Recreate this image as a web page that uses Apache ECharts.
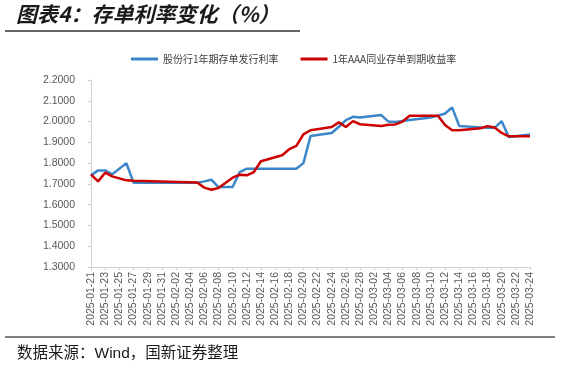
<!DOCTYPE html>
<html><head><meta charset="utf-8">
<script src="https://cdn.jsdelivr.net/npm/echarts@6/dist/echarts.min.js"></script>
<style>html,body{margin:0;padding:0;background:#fff}#c{width:578px;height:367px}</style>
</head><body><div id="c"></div>
<script>
// Calendar days 2025-01-21 .. 2025-03-24 (null = no trading day)
var startDate = '2025-01-21';
var dayCount = 63;
var seriesNames = ['股份行1年期存单发行利率', '1年AAA同业存单到期收益率'];
// [dayIndex, value]
var blueData = [
  [0,1.741],[1,1.765],[2,1.765],[3,1.746],[5,1.800],[6,1.706],[15,1.705],[16,1.712],[17,1.720],
  [18,1.685],[20,1.685],[21,1.757],[22,1.773],[23,1.773],[24,1.773],[27,1.773],[28,1.773],[29,1.773],
  [30,1.800],[31,1.930],[34,1.945],[35,1.975],[36,2.007],[37,2.023],[38,2.020],[41,2.031],[42,2.000],
  [43,1.998],[44,2.003],[45,2.008],[48,2.020],[49,2.028],[50,2.039],[51,2.068],[52,1.979],[55,1.972],
  [56,1.970],[57,1.970],[58,2.002],[59,1.926],[62,1.938]
];
var redData = [
  [0,1.745],[1,1.712],[2,1.754],[3,1.736],[5,1.717],[6,1.715],[15,1.707],[16,1.682],[17,1.672],
  [18,1.680],[20,1.730],[21,1.744],[22,1.741],[23,1.757],[24,1.809],[27,1.838],[28,1.867],[29,1.883],
  [30,1.938],[31,1.958],[34,1.974],[35,1.996],[36,1.974],[37,2.002],[38,1.987],[41,1.979],[42,1.985],
  [43,1.986],[44,2.000],[45,2.028],[48,2.028],[49,2.028],[50,1.983],[51,1.958],[52,1.958],[55,1.968],
  [56,1.978],[57,1.971],[58,1.945],[59,1.929],[62,1.929]
];
var yMin = 1.3, yMax = 2.2, yStep = 0.1;

function pad(n){return n<10?'0'+n:''+n;}
var categories = [];
var d0 = new Date(startDate + 'T00:00:00Z');
for (var i = 0; i < dayCount; i++) {
  var d = new Date(d0.getTime() + i*86400000);
  categories.push(d.getUTCFullYear() + '-' + pad(d.getUTCMonth()+1) + '-' + pad(d.getUTCDate()));
}
function expand(pairs){
  var arr = new Array(dayCount).fill(null);
  pairs.forEach(function(p){arr[p[0]] = p[1];});
  return arr;
}

var chart = echarts.init(document.getElementById('c'));
chart.setOption({
  animation: false,
  backgroundColor: '#fff',
  textStyle: {fontFamily: 'Liberation Sans, Noto Sans CJK SC, sans-serif'},
  graphic: [
    {type:'text', left: 16, top: 4, style:{text:'图表4：存单利率变化（%）', font:'italic bold 21px "Noto Sans CJK SC", sans-serif', fill:'#1a1a1a'}},
    {type:'line', shape:{x1:5, y1:31, x2:300, y2:31}, style:{stroke:'#333', lineWidth:1.5}},
    {type:'line', shape:{x1:5, y1:337, x2:555, y2:337}, style:{stroke:'#555', lineWidth:1.5}},
    {type:'text', left: 17, top: 346, style:{text:'数据来源：Wind，国新证券整理', font:'15.5px "Liberation Sans", "Noto Sans CJK SC", sans-serif', fill:'#1a1a1a'}}
  ],
  legend: {
    top: 49, left: 126,
    itemWidth: 27, itemHeight: 3, itemGap: 22,
    icon: 'rect',
    textStyle: {fontSize: 10, color: '#404040', fontFamily: 'Noto Sans CJK SC, sans-serif'},
    data: seriesNames
  },
  grid: {left: 91, right: 48, top: 80, bottom: 100, containLabel: false},
  xAxis: {
    type: 'category', data: categories, boundaryGap: false,
    axisLine: {lineStyle: {color: '#d0d0d0'}},
    axisTick: {show: true, interval: 1, length: 3, lineStyle: {color: '#d0d0d0'}},
    axisLabel: {interval: 1, rotate: 90, fontSize: 10.5, color: '#595959', margin: 5}
  },
  yAxis: {
    type: 'value', min: yMin, max: yMax, interval: yStep,
    axisLine: {show: true, lineStyle: {color: '#d0d0d0'}},
    axisTick: {show: true, length: 3, lineStyle: {color: '#d0d0d0'}},
    splitLine: {show: false},
    axisLabel: {fontSize: 10.5, color: '#595959', margin: 16, formatter: function(v){return v.toFixed(4);}}
  },
  series: [
    {name: seriesNames[0], type: 'line', data: expand(blueData), connectNulls: true, symbol: 'none',
     itemStyle: {color: '#3a86c8'}, lineStyle: {width: 2.5, color: '#3a86c8'}},
    {name: seriesNames[1], type: 'line', data: expand(redData), connectNulls: true, symbol: 'none',
     itemStyle: {color: '#cc0000'}, lineStyle: {width: 2.5, color: '#cc0000'}}
  ]
});
</script></body></html>
